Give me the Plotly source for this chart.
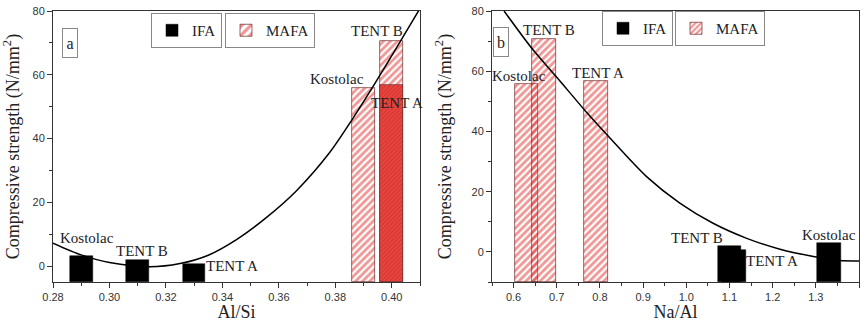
import plotly.graph_objects as go

# ---------------- data ----------------
samples = ["Kostolac", "TENT B", "TENT A"]
ifa_strength = [3.1, 1.8, 0.5]
mafa_strength = [55.7, 70.6, 56.8]
ifa_al_si = [0.29, 0.31, 0.33]
mafa_al_si = [0.39, 0.40, 0.40]
ifa_na_al = [1.33, 1.10, 1.11]
mafa_na_al = [0.63, 0.67, 0.79]

# fitted curves
fit_al_si_x = [0.280, 0.290, 0.300, 0.3143, 0.325, 0.335, 0.345, 0.355, 0.366, 0.378, 0.386, 0.3935, 0.4015, 0.410]
fit_al_si_y = [7.2, 3.5, 1.1, -0.2, 0.8, 3.4, 8.3, 14.8, 23.4, 35.6, 46.0, 56.5, 68.2, 80.8]
fit_na_al_x = [0.578, 0.645, 0.700, 0.770, 0.820, 0.908, 0.985, 1.062, 1.140, 1.217, 1.294, 1.356, 1.400]
fit_na_al_y = [80.0, 67.1, 58.0, 46.2, 38.3, 25.0, 16.2, 9.5, 4.5, 0.9, -1.5, -2.9, -3.0]

# axis ranges (bars are drawn up from the bottom of each frame)
yrange_left = [-5, 80]
yrange_right = [-10, 80]

# ---------------- style ----------------
RED = "#e0302b"
SERIF = "Liberation Serif, Times New Roman, serif"
SANS = "Liberation Sans, Arial, sans-serif"

# label pixel offsets relative to each bar top (xshift, yshift)
lab_ifa_left = [(6, 18), (4, 9), (38, -2)]
lab_mafa_left = [(-27, 9), (-15, 10), (5, -18)]
lab_ifa_right = [(0, 8), (-32, 8), (38, -11)]
lab_mafa_right = [(-8, 8.5), (5, 9), (2, 8)]

fig = go.Figure()

hatch_plain = dict(shape="/", fgcolor=RED, bgcolor="rgba(255,255,255,0)", size=5, solidity=0.55)
hatch_left = dict(shape="/", fgcolor=[RED, RED, "#b51f1f"],
                  bgcolor=["rgba(255,255,255,0)", "rgba(255,255,255,0)", "#e8453f"],
                  size=[5, 5, 3], solidity=[0.55, 0.55, 0.3])


def from_base(vals, base):
    return [v - base for v in vals]


bl, br = yrange_left[0], yrange_right[0]

# left panel
fig.add_trace(go.Bar(x=ifa_al_si, y=from_base(ifa_strength, bl), base=bl, width=0.008, name="IFA",
                     marker=dict(color="black", line=dict(color="black", width=0.5)),
                     xaxis="x", yaxis="y", legend="legend", showlegend=True))
fig.add_trace(go.Bar(x=mafa_al_si, y=from_base(mafa_strength, bl), base=bl, width=0.008, name="MAFA",
                     marker=dict(color=RED, pattern=hatch_left, line=dict(color="#6b2a2a", width=0.7)),
                     xaxis="x", yaxis="y", legend="legend2", showlegend=True))
fig.add_trace(go.Scatter(x=fit_al_si_x, y=fit_al_si_y, mode="lines",
                         line=dict(color="black", width=1.5, shape="spline", smoothing=0.8),
                         xaxis="x", yaxis="y", showlegend=False))

# right panel
fig.add_trace(go.Bar(x=ifa_na_al, y=from_base(ifa_strength, br), base=br, width=0.055, name="IFA",
                     marker=dict(color="black", line=dict(color="black", width=0.5)),
                     xaxis="x2", yaxis="y2", legend="legend3", showlegend=True))
fig.add_trace(go.Bar(x=mafa_na_al, y=from_base(mafa_strength, br), base=br, width=0.055, name="MAFA",
                     marker=dict(color=RED, pattern=hatch_plain, line=dict(color="#6b2a2a", width=0.7)),
                     xaxis="x2", yaxis="y2", legend="legend4", showlegend=True))
fig.add_trace(go.Scatter(x=fit_na_al_x, y=fit_na_al_y, mode="lines",
                         line=dict(color="black", width=1.5, shape="spline", smoothing=0.8),
                         xaxis="x2", yaxis="y2", showlegend=False))

annotations = []
def add_labels(xs, ys, offs, xref, yref):
    for name, x, y, (dx, dy) in zip(samples, xs, ys, offs):
        annotations.append(dict(x=x, y=y, xref=xref, yref=yref, text=name, showarrow=False,
                                xshift=dx, yshift=dy, font=dict(family=SERIF, size=15, color="#222")))

add_labels(ifa_al_si, ifa_strength, lab_ifa_left, "x", "y")
add_labels(mafa_al_si, mafa_strength, lab_mafa_left, "x", "y")
add_labels(ifa_na_al, ifa_strength, lab_ifa_right, "x2", "y2")
add_labels(mafa_na_al, mafa_strength, lab_mafa_right, "x2", "y2")

for txt, px, py in [("a", 62, 28), ("b", 501, 26.5)]:
    annotations.append(dict(x=px / 866, y=1 - py / 322, xref="paper", yref="paper", text=txt, showarrow=False,
                            font=dict(family=SERIF, size=16, color="#222"), bordercolor="#888", borderwidth=1,
                            borderpad=2, bgcolor="white", height=24, width=10))

axis_common = dict(showline=True, linecolor="#333", linewidth=1, mirror=True, ticks="outside", ticklen=5,
                   tickcolor="#333", showgrid=False, zeroline=False, automargin=False,
                   tickfont=dict(family=SANS, size=11, color="#333"))

yt = dict(text="Compressive strength (N/mm<sup>2</sup>)", font=dict(family=SERIF, size=18, color="#222"))

legend_common = dict(orientation="h", bgcolor="white", bordercolor="#888", borderwidth=1,
                     font=dict(family=SERIF, size=15, color="#222"), xanchor="left", yanchor="top",
                     itemwidth=30, tracegroupgap=0)

fig.update_layout(
    width=866, height=322, margin=dict(l=0, r=0, t=0, b=0, autoexpand=False),
    paper_bgcolor="white", plot_bgcolor="white", barmode="overlay", bargap=0,
    xaxis=dict(domain=[53 / 866, 420 / 866], range=[0.28, 0.41], tickmode="linear", tick0=0.28, dtick=0.02,
               tickformat=".2f", minor=dict(ticks="outside", ticklen=3, dtick=0.01, tickcolor="#333"),
               title=dict(text="Al/Si", font=dict(family=SERIF, size=18, color="#222")),
               anchor="y", **axis_common),
    yaxis=dict(domain=[1 - 282 / 322, 1 - 11 / 322], range=yrange_left, tickmode="linear", tick0=0, dtick=20,
               minor=dict(ticks="outside", ticklen=3, dtick=10, tickcolor="#333"),
               title=yt, anchor="x", **axis_common),
    xaxis2=dict(domain=[492 / 866, 859 / 866], range=[0.55, 1.4], tickmode="linear", tick0=0.6, dtick=0.1,
                tickformat=".1f", minor=dict(ticks="outside", ticklen=3, dtick=0.05, tickcolor="#333"),
                title=dict(text="Na/Al", font=dict(family=SERIF, size=18, color="#222")),
                anchor="y2", **axis_common),
    yaxis2=dict(domain=[1 - 282 / 322, 1 - 11 / 322], range=yrange_right, tickmode="linear", tick0=0, dtick=20,
                minor=dict(ticks="outside", ticklen=3, dtick=10, tickcolor="#333"),
                title=yt, anchor="x2", **axis_common),
    legend=dict(x=151 / 866, y=1 - 13 / 322, **legend_common),
    legend2=dict(x=225 / 866, y=1 - 13 / 322, **legend_common),
    legend3=dict(x=602 / 866, y=1 - 11 / 322, **legend_common),
    legend4=dict(x=675 / 866, y=1 - 11 / 322, **legend_common),
    annotations=annotations,
)

fig.write_html("out.html", config={"displayModeBar": False},
               post_script="document.body.style.margin='0';")
